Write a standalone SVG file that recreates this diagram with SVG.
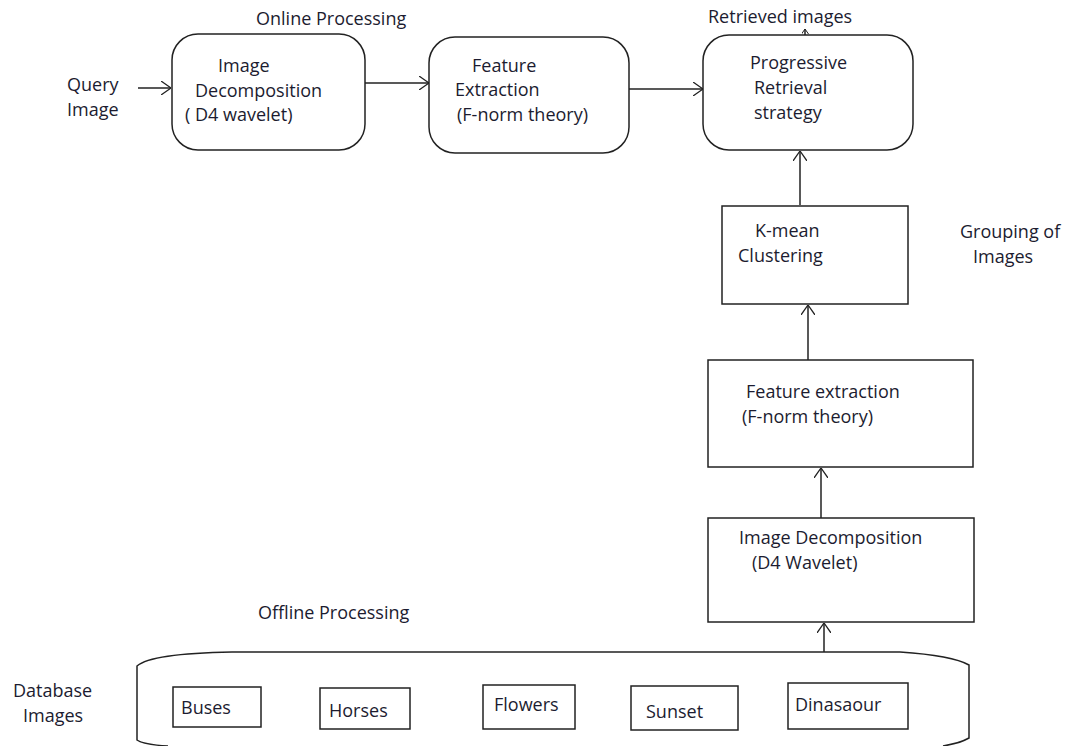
<svg xmlns="http://www.w3.org/2000/svg" width="1065" height="746" viewBox="0 0 1065 746">
  <style>
    text { font-family: "Open Sans", "Liberation Sans", sans-serif; font-size: 18px; fill: #1c1c30; }
    .box { fill: #ffffff; stroke: #222222; stroke-width: 1.5; }
    .conn { fill: none; stroke: #222222; stroke-width: 1.5; }
  </style>
  <defs>
    <marker id="arr" viewBox="0 0 10 14" refX="10" refY="7" markerWidth="10" markerHeight="14" markerUnits="userSpaceOnUse" orient="auto">
      <path d="M0,0 L10,7 L0,14" fill="none" stroke="#222222" stroke-width="1.3"/>
    </marker>
    <marker id="arrS" viewBox="0 0 10 14" refX="10" refY="7" markerWidth="5" markerHeight="7" markerUnits="userSpaceOnUse" orient="auto">
      <path d="M0,0 L10,7 L0,14" fill="none" stroke="#222222" stroke-width="2"/>
    </marker>
  </defs>
  <rect width="1065" height="746" fill="#ffffff"/>

  <text x="256" y="25">Online Processing</text>
  <text x="708" y="23">Retrieved images</text>

  <g id="query-label">
    <text x="67" y="91">Query</text>
    <text x="67" y="116">Image</text>
  </g>

  <g id="image-decomposition-online">
    <rect class="box" x="172" y="34" width="193" height="116" rx="26" ry="26"/>
    <text x="218" y="72">Image</text>
    <text x="195" y="97">Decomposition</text>
    <text x="185" y="121">( D4 wavelet)</text>
  </g>

  <g id="feature-extraction-online">
    <rect class="box" x="429" y="37" width="200" height="116" rx="26" ry="26"/>
    <text x="472" y="72">Feature</text>
    <text x="455" y="96">Extraction</text>
    <text x="457" y="121">(F-norm theory)</text>
  </g>

  <g id="progressive-retrieval">
    <rect class="box" x="703" y="35" width="210" height="115" rx="26" ry="26"/>
    <text x="750" y="69">Progressive</text>
    <text x="754" y="94">Retrieval</text>
    <text x="754" y="119">strategy</text>
  </g>

  <g id="kmean-clustering">
    <rect class="box" x="722" y="206" width="186" height="98"/>
    <text x="755" y="237">K-mean</text>
    <text x="738" y="262">Clustering</text>
  </g>

  <g id="grouping-label">
    <text x="960" y="238">Grouping of</text>
    <text x="973" y="263">Images</text>
  </g>

  <g id="feature-extraction-offline">
    <rect class="box" x="708" y="360" width="265" height="107"/>
    <text x="746" y="398">Feature extraction</text>
    <text x="742" y="423">(F-norm theory)</text>
  </g>

  <g id="image-decomposition-offline">
    <rect class="box" x="708" y="518" width="266" height="104"/>
    <text x="739" y="544">Image Decomposition</text>
    <text x="752" y="569">(D4 Wavelet)</text>
  </g>

  <text x="258" y="619">Offline Processing</text>

  <g id="database-label">
    <text x="13" y="697">Database</text>
    <text x="23" y="722">Images</text>
  </g>

  <g id="database">
    <path class="conn" d="M168 746 C152 745 141 743 137 740 L137 666 C146 658 175 653 232 652 L900 652 C930 654 955 657 969 665 L969 738 C962 742 955 744 943 746"/>
    <g id="buses">
      <rect class="box" x="173" y="687" width="88" height="40"/>
      <text x="181" y="714">Buses</text>
    </g>
    <g id="horses">
      <rect class="box" x="320" y="688" width="90" height="41"/>
      <text x="329" y="717">Horses</text>
    </g>
    <g id="flowers">
      <rect class="box" x="483" y="685" width="92" height="44"/>
      <text x="494" y="711">Flowers</text>
    </g>
    <g id="sunset">
      <rect class="box" x="631" y="686" width="107" height="44"/>
      <text x="646" y="718">Sunset</text>
    </g>
    <g id="dinasaour">
      <rect class="box" x="788" y="683" width="120" height="46"/>
      <text x="795" y="711">Dinasaour</text>
    </g>
  </g>

  <g id="connectors">
    <path class="conn" d="M138 88 L171 88" marker-end="url(#arr)"/>
    <path class="conn" d="M365 83 L429 83" marker-end="url(#arr)"/>
    <path class="conn" d="M629 89 L703 89" marker-end="url(#arr)"/>
    <path class="conn" d="M805 35 L805 29" marker-end="url(#arrS)"/>
    <path class="conn" d="M800 205 L800 151" marker-end="url(#arr)"/>
    <path class="conn" d="M808 360 L808 305" marker-end="url(#arr)"/>
    <path class="conn" d="M821 518 L821 468" marker-end="url(#arr)"/>
    <path class="conn" d="M824 652 L824 623" marker-end="url(#arr)"/>
  </g>
</svg>
